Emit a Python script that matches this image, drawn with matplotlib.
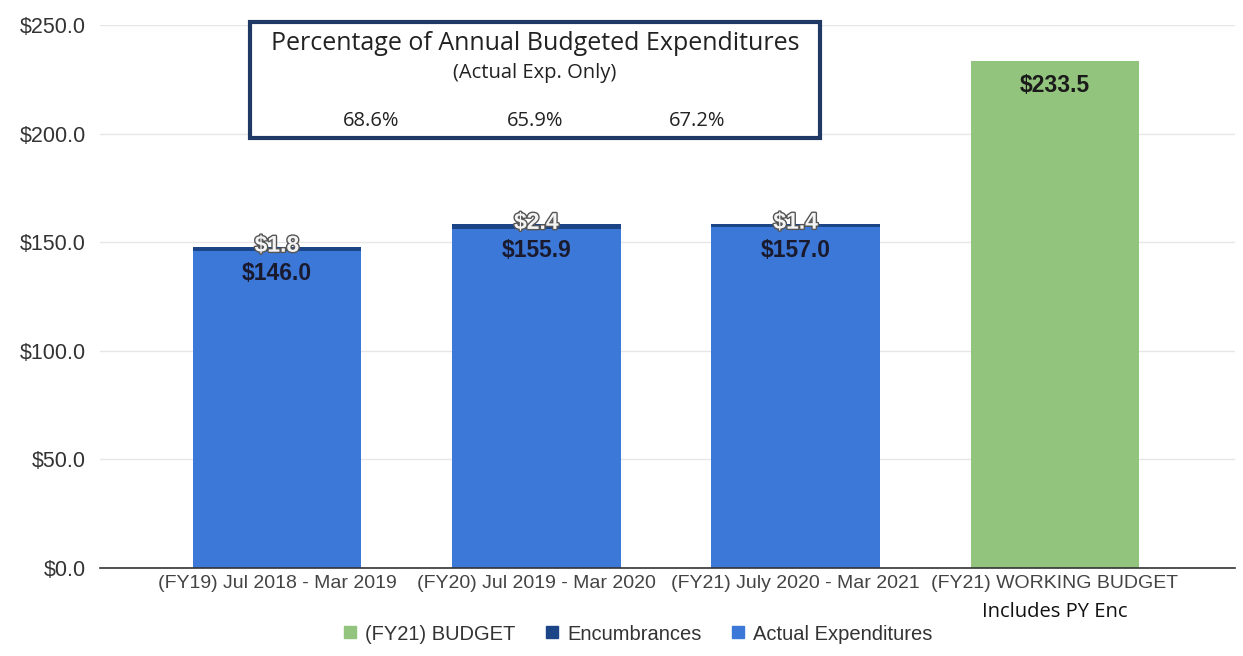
import matplotlib
matplotlib.use("Agg")
import matplotlib.pyplot as plt
import matplotlib.patheffects as pe
from matplotlib.patches import Rectangle
from matplotlib.lines import Line2D

categories = ["(FY19) Jul 2018 - Mar 2019", "(FY20) Jul 2019 - Mar 2020",
              "(FY21) July 2020 - Mar 2021", "(FY21) WORKING BUDGET"]
actual = [146.0, 155.9, 157.0]
encumbrances = [1.8, 2.4, 1.4]
budget = 233.5
pct_labels = ["68.6%", "65.9%", "67.2%"]
yticks = [0, 50, 100, 150, 200, 250]

C_ACT = "#3c78d8"
C_ENC = "#1c4587"
C_BUD = "#93c47d"

fig = plt.figure(figsize=(12.43, 6.56), dpi=100)
ax = fig.add_axes([100/1243, 1-568/656, (1235-100)/1243, (568-25)/656])

w = 0.65
xs = list(range(len(actual)))
ax.bar(xs, actual, width=w, color=C_ACT, zorder=2)
ax.bar(xs, encumbrances, bottom=actual, width=w, color=C_ENC, zorder=2)
ax.bar([3], [budget], width=w, color=C_BUD, zorder=2)

ax.set_xlim(-0.682, 3.694)
ax.set_ylim(0, 250)
ax.set_yticks(yticks)
ax.set_yticklabels([f"${v:.1f}" for v in yticks], fontsize=15.5, color="#333333",
                   family="Liberation Sans")
ax.set_xticks(range(4))
ax.set_xticklabels(categories, fontsize=14, color="#444444", family="Liberation Sans")
ax.tick_params(axis="both", length=0)
ax.tick_params(axis="y", pad=10)
ax.tick_params(axis="x", pad=5)
for s in ["top", "right", "left"]:
    ax.spines[s].set_visible(False)
ax.spines["bottom"].set_color("#333333")
ax.spines["bottom"].set_linewidth(1.2)
ax.grid(axis="y", color="#e6e6e6", linewidth=1, zorder=0)
ax.set_axisbelow(True)

# data labels
for x, a, e in zip(xs, actual, encumbrances):
    top = a + e
    ax.text(x, top - 12, f"${a:.1f}", ha="center", va="center", fontsize=16.5,
            fontweight="bold", color="#1a1a2e", family="Liberation Sans", zorder=4)
    ax.text(x, top + 0.8, f"${e:.1f}", ha="center", va="center", fontsize=16.5,
            fontweight="bold", color="#f4f4f4", family="Liberation Sans", zorder=5,
            path_effects=[pe.withStroke(linewidth=2, foreground="#555555")])
ax.text(3, budget - 11.5, f"${budget:.1f}", ha="center", va="center", fontsize=16.5,
        fontweight="bold", color="#1a1a1a", family="Liberation Sans", zorder=4)

# sub-label for working budget
fig.text(1055/1243, 1-612/656, "Includes PY Enc", ha="center", va="center",
         fontsize=14.5, color="#111111", family="Open Sans")

# percentage box
box = Rectangle((250/1243, 1-138/656), (820-250)/1243, (138-22)/656,
                transform=fig.transFigure, fill=True, facecolor="white",
                edgecolor="#1f3864", linewidth=3, zorder=10)
fig.patches.append(box)
fig.text(535/1243, 1-44/656, "Percentage of Annual Budgeted Expenditures",
         ha="center", va="center", fontsize=18, color="#222222", family="Open Sans", zorder=11)
fig.text(535/1243, 1-73/656, "(Actual Exp. Only)", ha="center", va="center",
         fontsize=14.5, color="#222222", family="Open Sans", zorder=11)
for px, t in zip([371, 535, 697], pct_labels):
    fig.text(px/1243, 1-121/656, t, ha="center", va="center", fontsize=14.5,
             color="#222222", family="Open Sans", zorder=11)

# legend
handles = [Line2D([], [], marker="s", linestyle="none", markersize=9, color=c)
           for c in [C_BUD, C_ENC, C_ACT]]
fig.legend(handles, ["(FY21) BUDGET", "Encumbrances", "Actual Expenditures"],
           loc="center", bbox_to_anchor=(637/1243, 1-634/656), ncol=3, frameon=False,
           prop={"family": "Liberation Sans", "size": 14.5}, handlelength=0.8,
           handletextpad=0.35, columnspacing=1.4, labelcolor="#333333")

fig.savefig("out.png", dpi=100)
